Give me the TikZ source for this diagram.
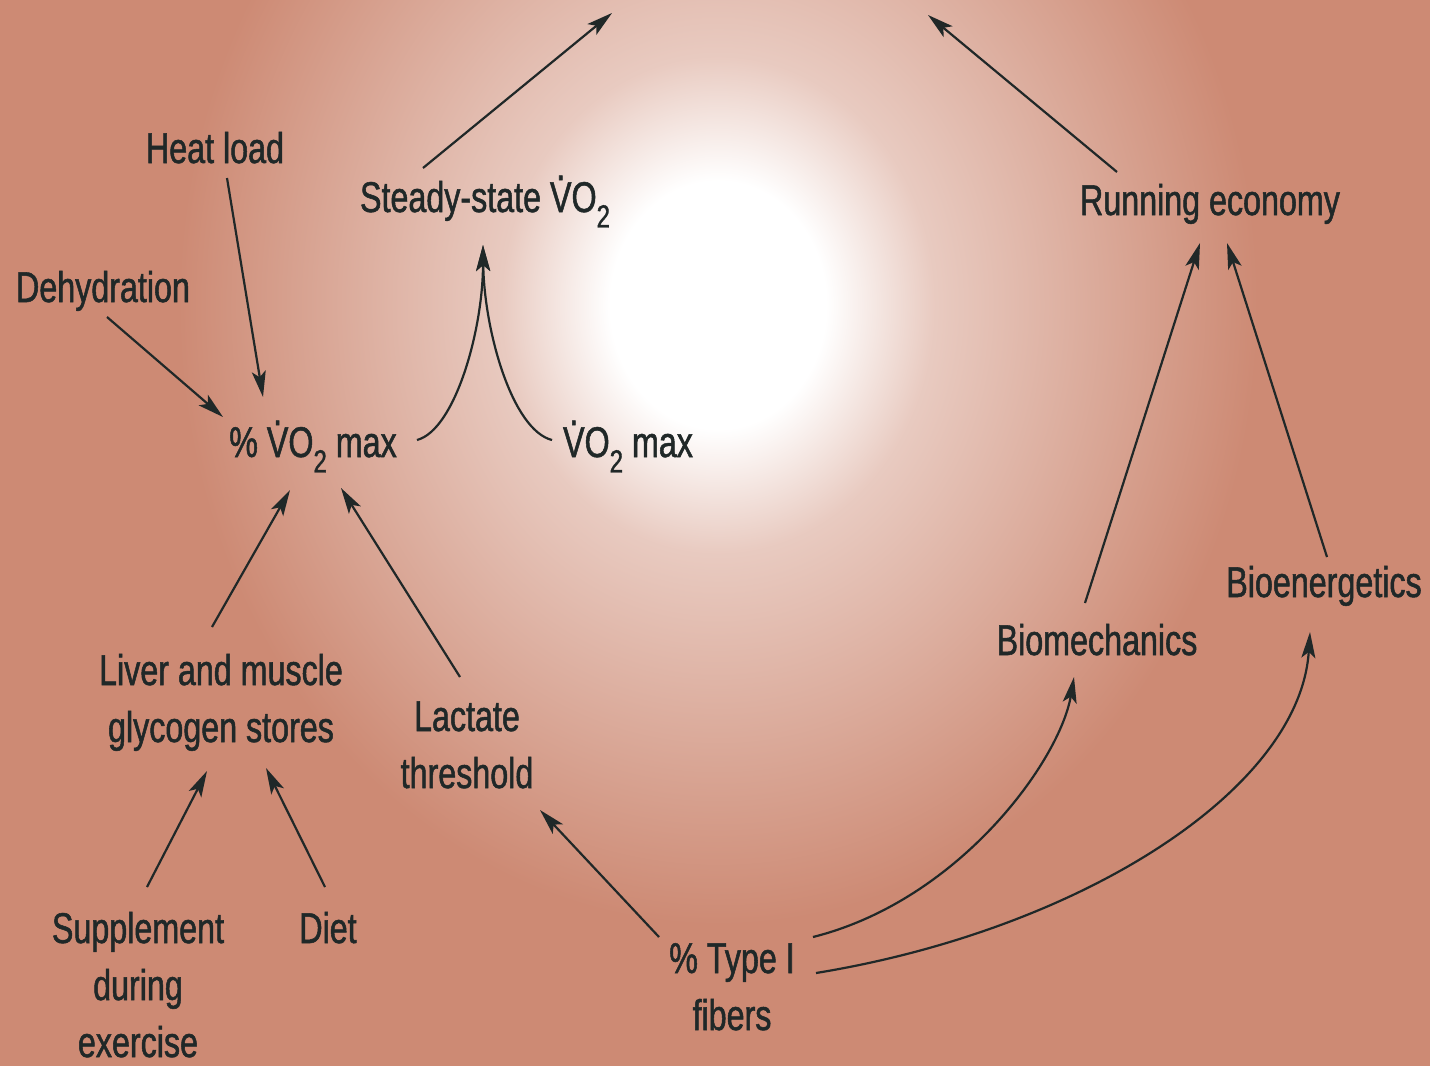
\documentclass[tikz,border=0pt]{standalone}
\usepackage{fontspec}
\setmainfont{Liberation Sans}[FakeStretch=0.75,FakeBold=1.2]
\usetikzlibrary{arrows.meta,calc}
\definecolor{bgc}{RGB}{205,138,116}
\definecolor{ink}{RGB}{32,40,40}
\colorlet{glowA}{bgc!45!white}
\pgfdeclareradialshading{glow}{\pgfpoint{0bp}{0bp}}{color(0bp)=(white); color(5bp)=(white); color(10bp)=(glowA); color(25bp)=(bgc); color(50bp)=(bgc)}
\newcommand{\Vd}{\ooalign{V\cr\hidewidth\raisebox{0.74em}{.}\hidewidth\cr}}
\newcommand{\subtwo}{\raisebox{-0.36em}{\fontsize{16}{16}\selectfont 2}}
\begin{document}
\begin{tikzpicture}[x=0.5pt,y=-0.5pt,
 lbl/.style={anchor=base,inner sep=0pt,text=ink,align=center,font=\fontsize{21.5}{28.5}\selectfont},
 arr/.style={draw=ink,line width=1.1pt,-{Stealth[length=13pt,width=7pt,inset=3pt]}}]
\useasboundingbox (0,0) rectangle (1430,1066);
\begin{scope}
\clip (0,0) rectangle (1430,1066);
\fill[bgc] (0,0) rectangle (1430,1066);
\shade[shading=glow] (718,305) ellipse [x radius=540,y radius=620];
\end{scope}

\node[lbl] (heat) at (215,163) {Heat load};
\node[lbl] (dehyd) at (103,302) {Dehydration};
\node[lbl] (pvo2) at (313,457) {\% \Vd O\subtwo\ max};
\node[lbl] (ss) at (485,212) {Steady-state \Vd O\subtwo};
\node[lbl] (vmax) at (628,457) {\Vd O\subtwo\ max};
\node[lbl] (re) at (1210,215) {Running economy};
\node[lbl] (biomech) at (1097,655) {Biomechanics};
\node[lbl] (bioen) at (1324,597) {Bioenergetics};
\node[lbl] (liver) at (221,742) {Liver and muscle\\glycogen stores};
\node[lbl] (lact) at (467,788) {Lactate\\threshold};
\node[lbl] (supp) at (138,1057) {Supplement\\during\\exercise};
\node[lbl] (diet) at (328,943) {Diet};
\node[lbl] (type1) at (732,1030) {\% Type I\\fibers};
\coordinate (topL) at (612,13);
\coordinate (topR) at (928,15);

\draw[arr] ($(heat.base)+(12,15)$) -- ($(pvo2.base)+(-50,-60)$);
\draw[arr] ($(dehyd.base)+(4,15)$) -- ($(pvo2.base)+(-90,-40)$);
\draw[arr] ($(ss.base)+(-62,-44)$) -- (topL);
\draw[arr] ($(re.base)+(-93,-43)$) -- (topR);
\draw[arr] ($(pvo2.base)+(104,-17)$) .. controls +(38,-10) and +(0,85) .. ($(ss.base)+(-2,33)$);
\draw[arr] ($(vmax.base)+(-76,-17)$) .. controls +(-40,-10) and +(1,85) .. ($(ss.base)+(-2,33)$);
\draw[arr] ($(liver.base)+(-9,-115)$) -- ($(pvo2.base)+(-23,33)$);
\draw[arr] ($(lact.base)+(-7,-111)$) -- ($(pvo2.base)+(28,31)$);
\draw[arr] ($(supp.base)+(9,-170)$) -- ($(liver.base)+(-14,29)$);
\draw[arr] ($(diet.base)+(-3,-56)$) -- ($(liver.base)+(45,26)$);
\draw[arr] ($(biomech.base)+(-12,-52)$) -- ($(re.base)+(-10,28)$);
\draw[arr] ($(bioen.base)+(3,-40)$) -- ($(re.base)+(17,28)$);
\draw[arr] ($(type1.base)+(-73,-93)$) -- ($(lact.base)+(73,22)$);
\draw[arr] ($(type1.base)+(81,-93)$) .. controls +(147,-37) and +(-14,83) .. ($(biomech.base)+(-23,22)$);
\draw[arr] ($(type1.base)+(84,-57)$) .. controls +(264,-43) and +(-10,158) .. ($(bioen.base)+(-14,35)$);
\end{tikzpicture}
\end{document}
